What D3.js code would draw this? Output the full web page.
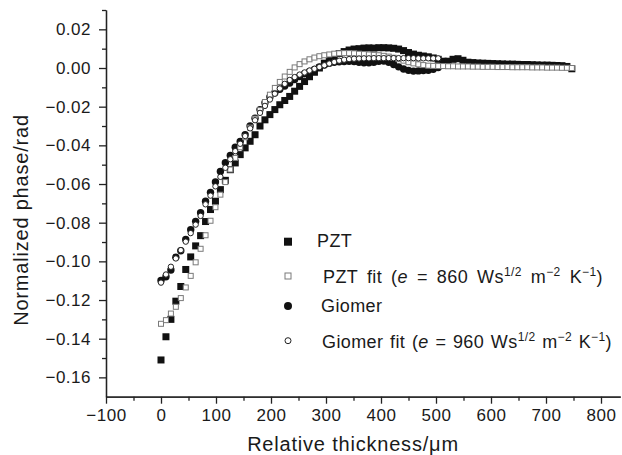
<!DOCTYPE html>
<html><head><meta charset="utf-8">
<script src="https://cdn.jsdelivr.net/npm/d3@7"></script>
<style>
html,body{margin:0;padding:0;background:#fff;}
text{font-family:"Liberation Sans",Arial,Helvetica,sans-serif;fill:#1a1a1a;}
</style></head>
<body><svg id="c" width="622" height="455"></svg>
<script>
// ---- data ----
const thickness = [0,9,18,27,36,45,54,63,72,81,90,99,108,117,126,135,144,153,162,171,180,189,198,207,216,225,234,243,252,261,270,279,288,297,306,315,324,333,342,351,360,369,378,387,396,405,414,423,432,441,450,459,468,477,486,495,504,513,522,531,540,549,558,567,576,585,594,603,612,621,630,639,648,657,666,675,684,693,702,711,720,729,738,747];
const pzt = [-0.151,-0.139,-0.130,-0.1206,-0.113,-0.1042,-0.0977,-0.0920,-0.0867,-0.0794,-0.0732,-0.0689,-0.0629,-0.0581,-0.0526,-0.0491,-0.0448,-0.0413,-0.0379,-0.0345,-0.0300,-0.0268,-0.0241,-0.0215,-0.0190,-0.0168,-0.0147,-0.0120,-0.0095,-0.0070,-0.0045,-0.0022,0.0000,0.0025,0.0045,0.0060,0.0075,0.0085,0.0093,0.0098,0.0100,0.0103,0.0104,0.0103,0.0105,0.0105,0.0104,0.0102,0.0098,0.0090,0.0080,0.0072,0.0066,0.0062,0.0058,0.0052,0.0045,0.0035,0.0035,0.0045,0.0048,0.0040,0.0030,0.0028,0.0026,0.0025,0.0024,0.0023,0.0022,0.0021,0.0020,0.0020,0.0019,0.0018,0.0018,0.0017,0.0016,0.0015,0.0015,0.0014,0.0013,0.0012,0.0008,-0.0004];
const pztFit = [-0.1323,-0.1304,-0.1270,-0.1235,-0.1190,-0.1135,-0.1075,-0.1005,-0.0935,-0.0865,-0.0790,-0.0720,-0.0655,-0.0590,-0.0525,-0.0465,-0.0410,-0.0358,-0.0308,-0.0262,-0.0218,-0.0176,-0.0138,-0.0103,-0.0072,-0.0044,-0.0020,0.0003,0.0020,0.0034,0.0045,0.0054,0.0061,0.0066,0.0070,0.0074,0.0076,0.0077,0.0077,0.0076,0.0074,0.0072,0.0070,0.0068,0.0066,0.0063,0.0059,0.0053,0.0046,0.0038,0.0030,0.0024,0.0019,0.0015,0.0012,0.0011,0.0010,0.0010,0.0009,0.0009,0.0008,0.0008,0.0008,0.0007,0.0007,0.0006,0.0006,0.0006,0.0005,0.0005,0.0005,0.0004,0.0004,0.0004,0.0004,0.0003,0.0003,0.0003,0.0002,0.0002,0.0002,0.0001,0.0001,0.0000];
const giomer = [-0.1099,-0.1080,-0.1045,-0.0979,-0.0945,-0.0887,-0.0836,-0.0793,-0.0749,-0.0689,-0.0643,-0.0589,-0.0535,-0.0490,-0.0452,-0.0410,-0.0380,-0.0345,-0.0300,-0.0260,-0.0215,-0.0180,-0.0150,-0.0128,-0.0110,-0.0093,-0.0078,-0.0060,-0.0044,-0.0030,-0.0018,-0.0008,0.0005,0.0015,0.0025,0.0030,0.0032,0.0034,0.0035,0.0033,0.0030,0.0027,0.0027,0.0030,0.0035,0.0036,0.0030,0.0018,0.0006,-0.0005,-0.0012,-0.0016,-0.0015,-0.0013,-0.0012,-0.0007,0.0002];
const giomerFit = [-0.1110,-0.1068,-0.1028,-0.0985,-0.0942,-0.0898,-0.0854,-0.0810,-0.0765,-0.0705,-0.0660,-0.0612,-0.0563,-0.0516,-0.0472,-0.0430,-0.0392,-0.0352,-0.0312,-0.0270,-0.0232,-0.0196,-0.0163,-0.0133,-0.0106,-0.0082,-0.0062,-0.0047,-0.0034,-0.0023,-0.0013,-0.0004,0.0005,0.0014,0.0023,0.0031,0.0038,0.0043,0.0046,0.0048,0.0049,0.0050,0.0050,0.0051,0.0051,0.0051,0.0051,0.0051,0.0051,0.0051,0.0051,0.0051,0.0050,0.0050,0.0050,0.0050,0.0050];
const xTicks = [-100,0,100,200,300,400,500,600,700,800];
const xMinor = [-50,50,150,250,350,450,550,650,750];
const yTicks = [-0.16,-0.14,-0.12,-0.10,-0.08,-0.06,-0.04,-0.02,0.00,0.02];
const yMinor = [-0.15,-0.13,-0.11,-0.09,-0.07,-0.05,-0.03,-0.01,0.01,0.03];
const xTitle = "Relative thickness/\u03bcm";
const yTitle = "Normalized phase/rad";
const legendItems = [
  {key:"pzt", parts:[["PZT",""]]},
  {key:"pztFit", parts:[["PZT fit (",""],["e","i"],[" = 860 Ws",""],["1/2","s"],[" m",""],["\u22122","s"],[" K",""],["\u22121","s"],[")",""]]},
  {key:"giomer", parts:[["Giomer",""]]},
  {key:"giomerFit", parts:[["Giomer fit (",""],["e","i"],[" = 960 Ws",""],["1/2","s"],[" m",""],["\u22122","s"],[" K",""],["\u22121","s"],[")",""]]}
];

// ---- chart ----
const svg = d3.select("#c");
const x = d3.scaleLinear().domain([-100, 835]).range([106, 620.25]);
const y = d3.scaleLinear().domain([-0.17, 0.03]).range([396.7, 10]);

const axStyle = g => { g.selectAll("path,line").attr("stroke","#222").attr("stroke-width",1.3); g.selectAll("text").attr("font-size","17px").attr("letter-spacing","0.5px").attr("fill","#1a1a1a").attr("font-family",null); };

svg.append("g").attr("transform","translate(0,396.7)")
  .call(d3.axisBottom(x).tickValues(xMinor).tickSize(4).tickSizeOuter(0).tickFormat(""))
  .call(axStyle);
svg.append("g").attr("transform","translate(0,396.7)")
  .call(d3.axisBottom(x).tickValues(xTicks).tickSize(7).tickSizeOuter(0).tickPadding(5).tickFormat(d3.format("d")))
  .call(axStyle);
svg.append("g").attr("transform","translate(106,0)")
  .call(d3.axisLeft(y).tickValues(yMinor).tickSize(4).tickSizeOuter(0).tickFormat(""))
  .call(axStyle);
svg.append("g").attr("transform","translate(106,0)")
  .call(d3.axisLeft(y).tickValues(yTicks).tickSize(7).tickSizeOuter(0).tickPadding(8).tickFormat(d3.format(".2f")))
  .call(axStyle);

svg.append("text").attr("x",353).attr("y",451).attr("text-anchor","middle")
  .attr("font-size","20px").attr("letter-spacing","0.8px").text(xTitle);
svg.append("text").attr("transform","translate(27.6,220) rotate(-90)").attr("text-anchor","middle")
  .attr("font-size","20px").attr("letter-spacing","0.8px").text(yTitle);

// marker drawers
const draw = {
  pzt: (g, cx, cy, s=7) => g.append("rect").attr("x",cx-s/2).attr("y",cy-s/2).attr("width",s).attr("height",s).attr("fill","#111"),
  pztFit: (g, cx, cy, s=5) => g.append("rect").attr("x",cx-s/2).attr("y",cy-s/2).attr("width",s).attr("height",s).attr("fill","#fff").attr("stroke","#7a7a7a").attr("stroke-width",1),
  giomer: (g, cx, cy, r=3.7) => g.append("circle").attr("cx",cx).attr("cy",cy).attr("r",r).attr("fill","#111"),
  giomerFit: (g, cx, cy, r=2.7) => g.append("circle").attr("cx",cx).attr("cy",cy).attr("r",r).attr("fill","#fff").attr("stroke","#222").attr("stroke-width",1)
};
const series = [["pzt",pzt],["giomer",giomer],["pztFit",pztFit],["giomerFit",giomerFit]];
const plot = svg.append("g");
series.forEach(([k, vals]) => {
  const g = plot.append("g");
  vals.forEach((v,i) => draw[k](g, x(thickness[i]), y(v)));
});

// legend
const legX = [317, 323, 321, 322], legY = [247, 283, 312, 348], markY = [241.7, 276, 306, 340.7];
const legRight = [null, 603, null, 612];
const markSize = {pzt:8, pztFit:6, giomer:4, giomerFit:3};
const leg = svg.append("g");
legendItems.forEach((it, i) => {
  draw[it.key](leg, 288, markY[i], markSize[it.key]);
  const t = leg.append("text").attr("x",legX[i]).attr("y",legY[i]).attr("font-size","18px")
    .attr("letter-spacing","0.4px");
  let raised = false;
  it.parts.forEach(([s, f]) => {
    const ts = t.append("tspan").text(s);
    if (f === "s") { ts.attr("font-size","12px").attr("dy", raised ? 0 : -7); raised = true; }
    else { if (raised) { ts.attr("dy", 7); raised = false; } if (f === "i") ts.attr("font-style","italic"); }
  });
  if (legRight[i] !== null) {
    const bb = t.node().getBBox();
    const nSp = it.parts.map(p => p[0]).join("").split(" ").length - 1;
    const ws = (legRight[i] - legX[i] - bb.width) / nSp;
    t.attr("word-spacing", ws.toFixed(2) + "px");
  }
});
</script></body></html>
